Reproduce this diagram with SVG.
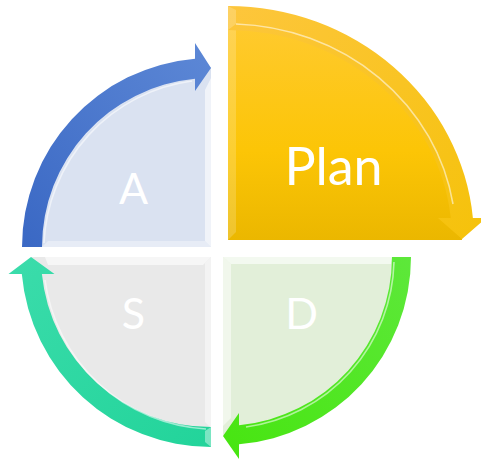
<svg xmlns="http://www.w3.org/2000/svg" width="481" height="461" viewBox="0 0 481 461">
  <defs>
    <linearGradient id="gPlan" x1="0" y1="0" x2="0" y2="1">
      <stop offset="0" stop-color="#ffca30"/>
      <stop offset="0.6" stop-color="#fcc506"/>
      <stop offset="1" stop-color="#ebb700"/>
    </linearGradient>
    <linearGradient id="gPlanArrow" x1="0" y1="0" x2="1" y2="1">
      <stop offset="0" stop-color="#fdc63c"/>
      <stop offset="1" stop-color="#f5c20a"/>
    </linearGradient>
    <linearGradient id="gA" x1="0" y1="1" x2="1" y2="0">
      <stop offset="0" stop-color="#3a68c4"/>
      <stop offset="1" stop-color="#5d88d6"/>
    </linearGradient>
    <linearGradient id="gS" x1="0" y1="0" x2="1" y2="1">
      <stop offset="0" stop-color="#3bdcab"/>
      <stop offset="1" stop-color="#22d49a"/>
    </linearGradient>
    <linearGradient id="gD" x1="1" y1="0" x2="0" y2="1">
      <stop offset="0" stop-color="#5de83a"/>
      <stop offset="1" stop-color="#47e510"/>
    </linearGradient>
  </defs>
  <style>
    .lbl { font-family: Lato, "Open Sans", "Liberation Sans", sans-serif; fill: #ffffff; text-anchor: middle; }
    .hl { fill: none; stroke: #ffffff; stroke-opacity: 0.55; stroke-width: 1.6; }
    .bevel { fill: #ffffff; fill-opacity: 0.6; }
  </style>

  <!-- Plan (top right, enlarged) -->
  <g id="plan">
    <path d="M228 240 L228 18 A234 222 0 0 1 462 240 Z" fill="url(#gPlan)"/>
    <path d="M228 240 L228 18 L236 26 L236 232 Z" fill="#ffffff" fill-opacity="0.18"/>
    <text class="lbl" x="333.5" y="185" font-size="52">Plan</text>
  </g>

  <!-- A (top left) -->
  <g id="act">
    <path d="M211 247 L31 247 A180 180 0 0 1 211 67 Z" fill="#dae2f1"/>
    <path d="M211 78 L211 247 L205 241 L205 90 Z" class="bevel"/>
    <path d="M42 247 L211 247 L205 241 L48 241 Z" fill="#ffffff" fill-opacity="0.35"/>
    <text class="lbl" x="133.5" y="204" font-size="43">A</text>
  </g>

  <!-- S (bottom left) -->
  <g id="study">
    <path d="M211 257 L31 257 A180 180 0 0 0 211 437 Z" fill="#e9e9e9"/>
    <path d="M45 257 L211 257 L203 265 L48 265 Z" class="bevel"/>
    <path d="M211 257 L211 428 L205 422 L205 263 Z" fill="#ffffff" fill-opacity="0.45"/>
    <text class="lbl" x="133.5" y="329" font-size="43">S</text>
  </g>

  <!-- D (bottom right) -->
  <g id="do">
    <path d="M223 257 L401 257 A178 178 0 0 1 223 435 Z" fill="#e2efd9"/>
    <path d="M223 257 L392 257 L391 264 L231 264 Z" class="bevel"/>
    <path d="M223 257 L231 264 L231 418 L223 426 Z" fill="#ffffff" fill-opacity="0.5"/>
    <text class="lbl" x="301.5" y="329" font-size="43">D</text>
  </g>

  <!-- cycle arrows -->
  <g id="connectors">
    <!-- Plan to D -->
    <path d="M228 6 A246 234 0 0 1 472.9 218 L486 218 L462 239 L438 218 L450.8 218 A224 210 0 0 0 228 30 Z" fill="url(#gPlanArrow)"/>
    <path d="M236 24 A228 214 0 0 1 453 204" class="hl" stroke-width="2.2" stroke-opacity="0.6"/>
    <path d="M228 6 L228 30 L236 24 L236 10 Z" fill="#ffffff" fill-opacity="0.2"/>
    <!-- D to S -->
    <path d="M411 257 A188 188 0 0 1 239 444.3 L239 459 L223 436 L239 413 L239 425.2 A169 169 0 0 0 392 257 Z" fill="url(#gD)"/>
    <path d="M394 262 A171 171 0 0 1 246 427" class="hl"/>
    <!-- S to A -->
    <path d="M211 447 A190 190 0 0 1 21.8 274 L8.5 274 L31 257 L54.5 274 L41.9 274 A170 170 0 0 0 211 427 Z" fill="url(#gS)"/>
    <path d="M206 429 A172 172 0 0 1 45 280" class="hl"/>
    <path d="M211 427 L211 447 L205 442 L205 431 Z" fill="#ffffff" fill-opacity="0.4"/>
    <!-- A to Plan -->
    <path d="M22 247 A189 189 0 0 1 195 58.7 L195 43 L211 68 L195 91 L195 78.8 A169 169 0 0 0 42 247 Z" fill="url(#gA)"/>
    <path d="M44 243 A171 171 0 0 1 192 81" class="hl" stroke-opacity="0.35"/>
  </g>
</svg>
